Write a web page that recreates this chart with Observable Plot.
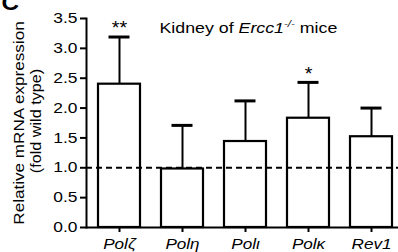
<!DOCTYPE html>
<html><head><meta charset="utf-8">
<script src="https://cdn.jsdelivr.net/npm/d3@7"></script>
<script src="https://cdn.jsdelivr.net/npm/@observablehq/plot@0.6"></script>
<style>
body{margin:0;background:#fff;}
svg{font-family:"Liberation Sans",Arial,Helvetica,sans-serif;}
</style>
</head><body><div id="chart"></div>
<script>
const genes = ["Polζ", "Polη", "Polι", "Polκ", "Rev1"];
const means = [2.40, 0.98, 1.44, 1.83, 1.52];
const upper = [3.19, 1.71, 2.12, 2.43, 2.00];
const stars = ["**", "", "", "*", ""];
const yTicks = [0, 0.5, 1, 1.5, 2, 2.5, 3, 3.5];
const refLine = [1];
const titleText = "Kidney of Ercc1-/- mice";
const yLabel1 = "Relative mRNA expression";
const yLabel2 = "(fold wild type)";
const panelLabel = "C";

const data = genes.map((g, i) => ({gene: g, mean: means[i], upper: upper[i], star: stars[i]}));

const plot = Plot.plot({
  width: 398, height: 252,
  marginLeft: 86, marginRight: 0, marginTop: 18, marginBottom: 25,
  style: {fontFamily: '"Liberation Sans", Arial, sans-serif', fontSize: "14px", color: "black", background: "white", overflow: "visible"},
  x: {domain: genes, range: [86, 404], paddingInner: 0.335, paddingOuter: 0.186, axis: null},
  y: {domain: [0, 3.5], axis: null},
  marks: [
    Plot.ruleX(data, {x: "gene", y1: "mean", y2: "upper", strokeWidth: 2, stroke: "black"}),
    Plot.tickY(data, {x: "gene", y: "upper", strokeWidth: 3, stroke: "black", insetLeft: 10.5, insetRight: 10.5}),
    Plot.barY(data, {x: "gene", y: "mean", fill: "white", stroke: "black", strokeWidth: 2.2}),
    Plot.ruleY(refLine, {strokeDasharray: "6,4", strokeWidth: 2, stroke: "black"}),
    Plot.ruleY([0], {strokeWidth: 2, stroke: "black"}),
    Plot.frame({anchor: "left", strokeWidth: 2, stroke: "black"}),
    Plot.axisY(yTicks, {tickFormat: d3.format(".1f"), tickSize: 6, tickPadding: 3, strokeWidth: 2, fontSize: 14.5, label: null}),
    Plot.axisX({tickSize: 5, tickPadding: 6, strokeWidth: 2, fontStyle: "italic", fontSize: 14.5, label: null}),
    Plot.text(data, {x: "gene", y: "upper", text: "star", dy: -8.4, lineAnchor: "middle", fontSize: 18}),
    Plot.text([titleText], {frameAnchor: "top-left", dx: 73, dy: 14, lineAnchor: "bottom", textAnchor: "start", fontSize: 14}),
    Plot.text([yLabel1], {frameAnchor: "left", rotate: -90, dx: 23 - 86, textAnchor: "middle", lineAnchor: "bottom", fontSize: 15}),
    Plot.text([yLabel2], {frameAnchor: "left", rotate: -90, dx: 40 - 86, dy: -2, textAnchor: "middle", lineAnchor: "bottom", fontSize: 15}),
    Plot.text([panelLabel], {frameAnchor: "top-left", dx: 1 - 86, dy: 9.5 - 18, lineAnchor: "bottom", textAnchor: "start", fontSize: 22, fontWeight: "bold"})
  ]
});
document.getElementById("chart").appendChild(plot);

// rebuild the title with italic gene name and superscript genotype
const NS = "http://www.w3.org/2000/svg";
plot.querySelectorAll("text").forEach(t => {
  if (t.textContent === titleText) {
    t.textContent = "";
    const parts = [
      {s: "Kidney of "},
      {s: "Ercc1", it: true},
      {s: "-/-", it: true, sup: true},
      {s: " mice", down: true}
    ];
    for (const p of parts) {
      const ts = document.createElementNS(NS, "tspan");
      ts.textContent = p.s;
      if (p.it) ts.setAttribute("font-style", "italic");
      if (p.sup) { ts.setAttribute("font-size", "9"); ts.setAttribute("dy", "-5.5"); }
      if (p.down) ts.setAttribute("dy", "5.5");
      t.appendChild(ts);
    }
  }
});

// widen glyphs slightly to match the reference's broad lettering
function factor(s) {
  if (/^\d\.\d$/.test(s)) return 1.2;
  if (genes.includes(s)) return 1.18;
  if (s.startsWith("Kidney")) return 1.27;
  if (s === yLabel1) return 1.14;
  if (s === yLabel2) return 1.08;
  return 1.1;
}
plot.querySelectorAll("text").forEach(t => {
  const s = factor(t.textContent);
  const x = +t.getAttribute("x") || 0, y = +t.getAttribute("y") || 0;
  const tr = t.getAttribute("transform") || "";
  t.setAttribute("transform", `${tr} translate(${x},${y}) scale(${s},1) translate(${-x},${-y})`);
});
</script>
</body></html>
